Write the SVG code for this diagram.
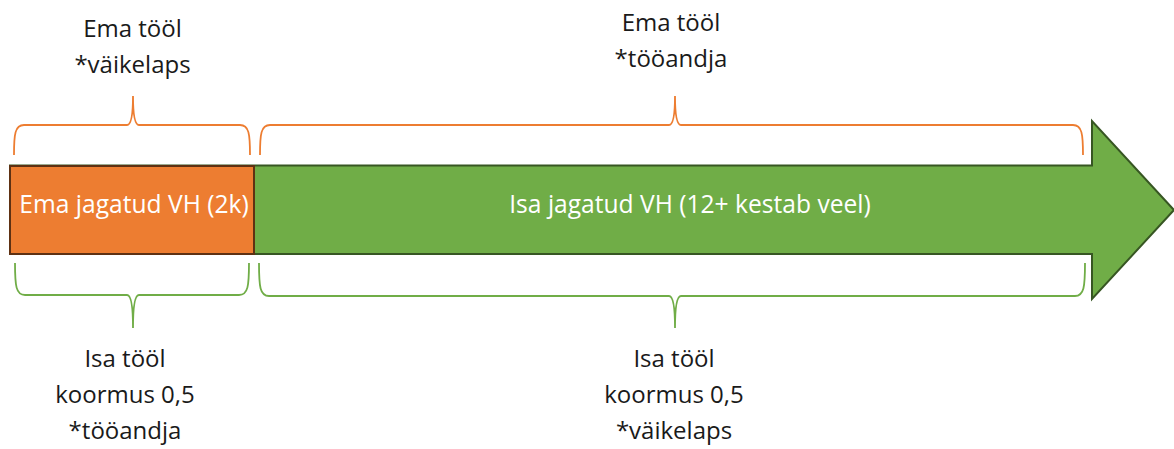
<svg xmlns="http://www.w3.org/2000/svg" width="1174" height="449" viewBox="0 0 1174 449">
<style>
.t{font-family:"Open Sans","Noto Sans","Liberation Sans",sans-serif;font-size:24px;fill:#1a1a1a;text-anchor:middle}
.w{fill:#ffffff;font-size:24.6px}
.bo{fill:none;stroke:#ED7D31;stroke-width:1.8}
.bg{fill:none;stroke:#70AD47;stroke-width:1.8}
</style>
<rect width="1174" height="449" fill="#ffffff"/>
<g id="arrow">
<polygon points="10,165.5 1092,165.5 1092,121 1174,210 1092,299 1092,254 10,254" fill="#70AD47" stroke="#375623" stroke-width="2"/>
<text class="t w" x="690" y="213">Isa jagatud VH (12+ kestab veel)</text>
</g>
<g id="ema-vh">
<rect x="10" y="166" width="244" height="88" fill="#ED7D31" stroke="#5E3113" stroke-width="2"/>
<text class="t w" x="134" y="213">Ema jagatud VH (2k)</text>
</g>
<g id="connectors">
<path class="bo" d="M14,155 C14,134 15,125 24,125 L127,125 Q133,125 133,96 Q133,125 139,125 L240,125 C249,125 250,134 250,155"/>
<path class="bo" d="M260,155 C260,134 261,125 270,125 L669,125 Q675,125 675,96 Q675,125 681,125 L1073,125 C1082,125 1083,134 1083,155"/>
<path class="bg" d="M15,263 C15,286 16,295 25,295 L127,295 Q133,295 133,328 Q133,295 139,295 L239,295 C248,295 249,286 249,263"/>
<path class="bg" d="M259,263 C259,287 260,296 269,296 L669,296 Q675,296 675,328 Q675,296 681,296 L1075,296 C1084,296 1085,287 1085,263"/>
</g>
<g id="label-top-left">
<text class="t" x="132.5" y="37">Ema tööl</text>
<text class="t" x="132.5" y="73">*väikelaps</text>
</g>
<g id="label-top-right">
<text class="t" x="671" y="31">Ema tööl</text>
<text class="t" x="671" y="67">*tööandja</text>
</g>
<g id="label-bottom-left">
<text class="t" x="125" y="367">Isa tööl</text>
<text class="t" x="125" y="403">koormus 0,5</text>
<text class="t" x="125" y="439">*tööandja</text>
</g>
<g id="label-bottom-right">
<text class="t" x="674" y="367">Isa tööl</text>
<text class="t" x="674" y="403">koormus 0,5</text>
<text class="t" x="674" y="439">*väikelaps</text>
</g>
</svg>
